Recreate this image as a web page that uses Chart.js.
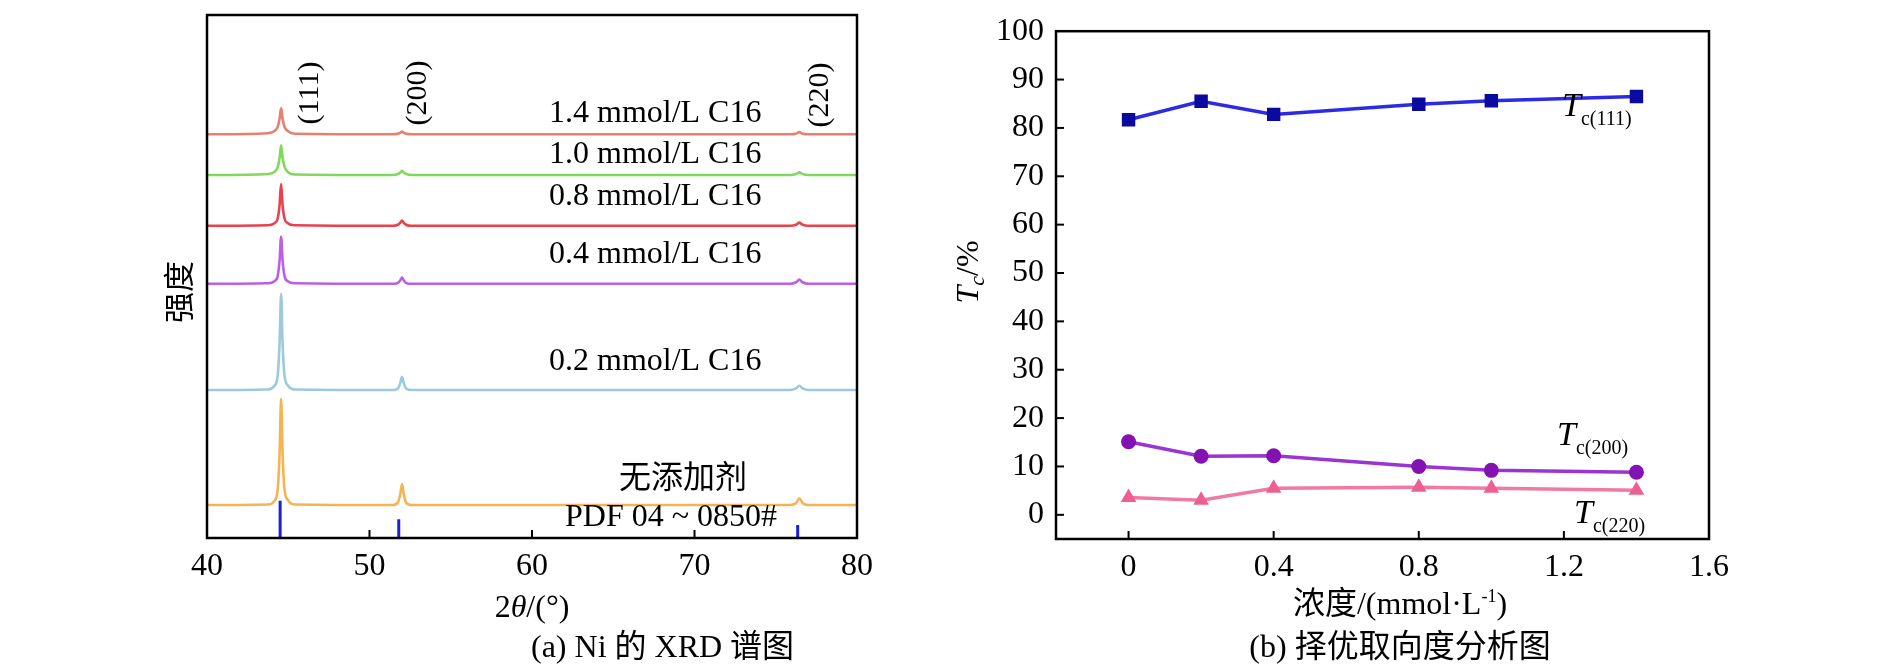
<!DOCTYPE html>
<html>
<head>
<meta charset="utf-8">
<script src="https://cdn.jsdelivr.net/npm/chart.js@4"></script>
<style>
  html, body { margin: 0; padding: 0; background: #fff; }
  body { width: 1890px; height: 670px; position: relative; overflow: hidden; }
  canvas { position: absolute; top: 0; }
</style>
</head>
<body>
<canvas id="xrd" width="945" height="670" style="left:0"></canvas>
<canvas id="tc" width="945" height="670" style="left:945px"></canvas>
<script>
"use strict";

// ---- (a) XRD patterns ----
const xrdTheta = [40, 43.75, 44.15, 44.35, 44.47, 44.56, 44.65, 44.77, 44.97, 45.4,
  51.4, 51.75, 51.9, 52.0, 52.1, 52.25, 52.6, 75.9, 76.25, 76.45, 76.65, 77.0, 80];

const xrdLabels = ["无添加剂", "0.2 mmol/L C16", "0.4 mmol/L C16", "0.8 mmol/L C16", "1.0 mmol/L C16", "1.4 mmol/L C16"];
const xrdOffsets = [6.3, 28.3, 48.6, 59.7, 69.4, 77.2];
const xrdColors = ["#f6b352", "#9ccadc", "#bd5fe2", "#e8424c", "#80d95c", "#e6806f"];

const int0 = [0, 0.1, 0.8, 3.0, 10.2, 20.3, 10.0, 3.0, 1.0, 0.1, 0, 0.5, 2.2, 4.0, 2.2, 0.5, 0, 0, 0.4, 1.3, 0.4, 0, 0];
const int02 = [0, 0.1, 0.8, 2.8, 9.3, 18.4, 9.1, 2.8, 0.9, 0.1, 0, 0.3, 1.4, 2.5, 1.4, 0.3, 0, 0, 0.3, 0.8, 0.3, 0, 0];
const int04 = [0, 0.1, 0.5, 1.5, 4.6, 9.0, 4.5, 1.5, 0.5, 0.1, 0, 0.2, 0.7, 1.2, 0.7, 0.2, 0, 0, 0.3, 0.8, 0.3, 0, 0];
const int08 = [0, 0.1, 0.5, 1.4, 4.1, 8.0, 4.0, 1.4, 0.5, 0.1, 0, 0.2, 0.6, 1.0, 0.6, 0.2, 0, 0, 0.2, 0.6, 0.2, 0, 0];
const int10 = [0, 0.2, 0.6, 1.5, 3.3, 5.7, 3.4, 1.6, 0.6, 0.1, 0, 0.2, 0.5, 0.8, 0.5, 0.2, 0, 0, 0.2, 0.5, 0.2, 0, 0];
const int14 = [0, 0.2, 0.6, 1.4, 3.0, 5.0, 3.0, 1.4, 0.6, 0.1, 0, 0.1, 0.3, 0.5, 0.3, 0.1, 0, 0, 0.1, 0.4, 0.1, 0, 0];
const xrdIntensities = [int0, int02, int04, int08, int10, int14];

// PDF 04-0850 reference lines
const pdfTheta = [44.5, 51.8, 76.35];
const pdfHeight = [7.1, 3.6, 2.5];

const peakNames = ["(111)", "(200)", "(220)"];
const xrdTicks = [40, 50, 60, 70, 80];

// ---- (b) texture coefficients ----
const conc = [0, 0.2, 0.4, 0.8, 1.0, 1.4];
const tc111 = [81.7, 85.5, 82.8, 84.9, 85.6, 86.5];
const tc200 = [15.1, 12.1, 12.2, 10.0, 9.2, 8.8];
const tc220 = [3.6, 3.0, 5.5, 5.7, 5.5, 5.1];
const concTicks = [0, 0.4, 0.8, 1.2, 1.6];
const tcTicks = [0, 10, 20, 30, 40, 50, 60, 70, 80, 90, 100];

const SERIF = '"Liberation Serif", "Noto Sans CJK SC", serif';
const f = (px, style) => (style ? style + " " : "") + px + "px " + SERIF;

// draw a run of text pieces (different fonts / offsets) as one line
function richText(ctx, parts, x, y, align) {
  let w = 0;
  parts.forEach(p => { ctx.font = p.font; w += ctx.measureText(p.t).width; });
  let cx = align === "center" ? x - w / 2 : (align === "right" ? x - w : x);
  ctx.textAlign = "left";
  ctx.textBaseline = "alphabetic";
  parts.forEach(p => {
    ctx.font = p.font;
    ctx.fillText(p.t, cx, y + (p.dy || 0));
    cx += ctx.measureText(p.t).width;
  });
}

function frame(ctx, a) {
  ctx.save();
  ctx.strokeStyle = "#000";
  ctx.lineWidth = 2.5;
  ctx.strokeRect(a.left, a.top, a.right - a.left, a.bottom - a.top);
  ctx.restore();
}

const xrdDecor = {
  id: "xrdDecor",
  afterDraw(chart) {
    const ctx = chart.ctx, a = chart.chartArea;
    const xs = chart.scales.x;
    frame(ctx, a);
    ctx.save();
    ctx.strokeStyle = "#000";
    ctx.lineWidth = 2;
    xrdTicks.slice(1, -1).forEach(v => {
      const px = xs.getPixelForValue(v);
      ctx.beginPath(); ctx.moveTo(px, a.bottom); ctx.lineTo(px, a.bottom - 8); ctx.stroke();
    });
    ctx.fillStyle = "#000";
    // peak indices, rotated
    const peakPos = [[310, 93], [418, 93], [820, 95]];
    peakNames.forEach((n, i) => {
      ctx.save();
      ctx.translate(peakPos[i][0], peakPos[i][1]);
      ctx.rotate(-Math.PI / 2);
      ctx.font = f(30);
      ctx.textAlign = "center";
      ctx.textBaseline = "middle";
      ctx.fillText(n, 0, 0);
      ctx.restore();
    });
    // curve labels
    const labelY = [480, 362, 255, 197, 155, 114];
    ctx.font = f(32);
    ctx.textBaseline = "middle";
    xrdLabels.forEach((t, i) => {
      if (i === 0) { ctx.textAlign = "center"; ctx.fillText(t, 683, labelY[i]); }
      else { ctx.textAlign = "left"; ctx.fillText(t, 549, labelY[i]); }
    });
    ctx.textAlign = "center";
    ctx.fillText("PDF 04 ~ 0850#", 671, 518);
    // y title
    ctx.save();
    ctx.translate(182, 292);
    ctx.rotate(-Math.PI / 2);
    ctx.font = f(31);
    ctx.fillText("强度", 0, 0);
    ctx.restore();
    // x title and caption
    richText(ctx, [{ t: "2", font: f(32) }, { t: "θ", font: f(32, "italic") }, { t: "/(°)", font: f(32) }], 532, 617, "center");
    ctx.font = f(32);
    ctx.textBaseline = "middle";
    ctx.fillText("(a) Ni 的 XRD 谱图", 531, 649);
    ctx.restore();
  }
};

const tcDecor = {
  id: "tcDecor",
  afterDraw(chart) {
    const ctx = chart.ctx, a = chart.chartArea;
    const xs = chart.scales.x, ys = chart.scales.y;
    frame(ctx, a);
    ctx.save();
    ctx.strokeStyle = "#000";
    ctx.lineWidth = 2;
    tcTicks.slice(0, -1).forEach(v => {
      const py = ys.getPixelForValue(v);
      ctx.beginPath(); ctx.moveTo(a.left, py); ctx.lineTo(a.left + 8, py); ctx.stroke();
    });
    concTicks.slice(0, -1).forEach(v => {
      const px = xs.getPixelForValue(v);
      ctx.beginPath(); ctx.moveTo(px, a.bottom); ctx.lineTo(px, a.bottom - 8); ctx.stroke();
    });
    ctx.fillStyle = "#000";
    const ox = 945;
    const tag = (sub, x, y) => richText(ctx, [
      { t: "T", font: f(34, "italic") },
      { t: sub, font: f(20), dy: 9 }
    ], x - ox, y, "left");
    tag("c(111)", 1562, 116);
    tag("c(200)", 1557, 445);
    tag("c(220)", 1574, 523);
    // y title
    ctx.save();
    ctx.translate(968 - ox + 10, 272);
    ctx.rotate(-Math.PI / 2);
    richText(ctx, [
      { t: "T", font: f(32, "italic") },
      { t: "c", font: f(22, "italic"), dy: 6 },
      { t: "/%", font: f(32) }
    ], 0, 0, "center");
    ctx.restore();
    richText(ctx, [
      { t: "浓度/(mmol·L", font: f(32) },
      { t: "-1", font: f(18), dy: -12 },
      { t: ")", font: f(32) }
    ], 1400 - ox, 614, "center");
    ctx.font = f(32);
    ctx.textAlign = "center";
    ctx.textBaseline = "middle";
    ctx.fillText("(b) 择优取向度分析图", 1400 - ox, 649);
    ctx.restore();
  }
};

const tickFont = { family: SERIF, size: 32 };

new Chart(document.getElementById("xrd"), {
  type: "line",
  data: {
    datasets: xrdIntensities.map((arr, i) => ({
      label: xrdLabels[i],
      data: xrdTheta.map((t, k) => ({ x: t, y: xrdOffsets[i] + arr[k] })),
      borderColor: xrdColors[i],
      borderWidth: 2.6,
      pointRadius: 0,
      cubicInterpolationMode: "monotone",
      fill: false,
    })).concat([{
      label: "PDF",
      data: pdfTheta.flatMap((t, i) => [{ x: t, y: 0 }, { x: t, y: pdfHeight[i] }, { x: t, y: null }]),
      borderColor: "#1a22d8",
      borderWidth: 3,
      pointRadius: 0,
      spanGaps: false,
    }]),
  },
  options: {
    responsive: false,
    devicePixelRatio: 1,
    animation: false,
    layout: { padding: { left: 207, right: 88, top: 15, bottom: 0 } },
    plugins: { legend: { display: false }, tooltip: { enabled: false } },
    scales: {
      x: {
        type: "linear", min: 40, max: 80,
        ticks: { stepSize: 10, font: tickFont, color: "#000", padding: 9, maxRotation: 0 },
        grid: { display: false, drawTicks: false },
        border: { display: false },
        afterFit: s => { s.height = 132; },
      },
      y: { display: false, min: 0, max: 100 },
    },
  },
  plugins: [xrdDecor],
});

new Chart(document.getElementById("tc"), {
  type: "line",
  data: {
    datasets: [
      { label: "Tc(111)", data: conc.map((c, i) => ({ x: c, y: tc111[i] })),
        borderColor: "#2b2be6", backgroundColor: "#0a0a9e", borderWidth: 3.5,
        pointStyle: "rect", pointRadius: 9.5, pointBorderWidth: 0 },
      { label: "Tc(200)", data: conc.map((c, i) => ({ x: c, y: tc200[i] })),
        borderColor: "#9a34d2", backgroundColor: "#8212b2", borderWidth: 3.5,
        pointStyle: "circle", pointRadius: 7.5, pointBorderWidth: 0 },
      { label: "Tc(220)", data: conc.map((c, i) => ({ x: c, y: tc220[i] })),
        borderColor: "#f07aa0", backgroundColor: "#ec5f8e", borderWidth: 3.5,
        pointStyle: "triangle", pointRadius: 9, pointBorderWidth: 0 },
    ],
  },
  options: {
    responsive: false,
    devicePixelRatio: 1,
    animation: false,
    layout: { padding: { left: 0, right: 181, top: 14, bottom: 0 } },
    plugins: { legend: { display: false }, tooltip: { enabled: false } },
    scales: {
      x: {
        type: "linear", min: -0.2, max: 1.6,
        afterBuildTicks: s => { s.ticks = concTicks.map(v => ({ value: v })); },
        ticks: { font: tickFont, color: "#000", padding: 9, maxRotation: 0, callback: v => String(v) },
        grid: { display: false, drawTicks: false },
        border: { display: false },
        afterFit: s => { s.height = 131; },
      },
      y: {
        type: "linear", min: -5, max: 100,
        afterBuildTicks: s => { s.ticks = tcTicks.map(v => ({ value: v })); },
        ticks: { font: tickFont, color: "#000", padding: 12, callback: v => String(v) },
        grid: { display: false, drawTicks: false },
        border: { display: false },
        afterFit: s => { s.width = 111; },
      },
    },
  },
  plugins: [tcDecor],
});
</script>
</body>
</html>
